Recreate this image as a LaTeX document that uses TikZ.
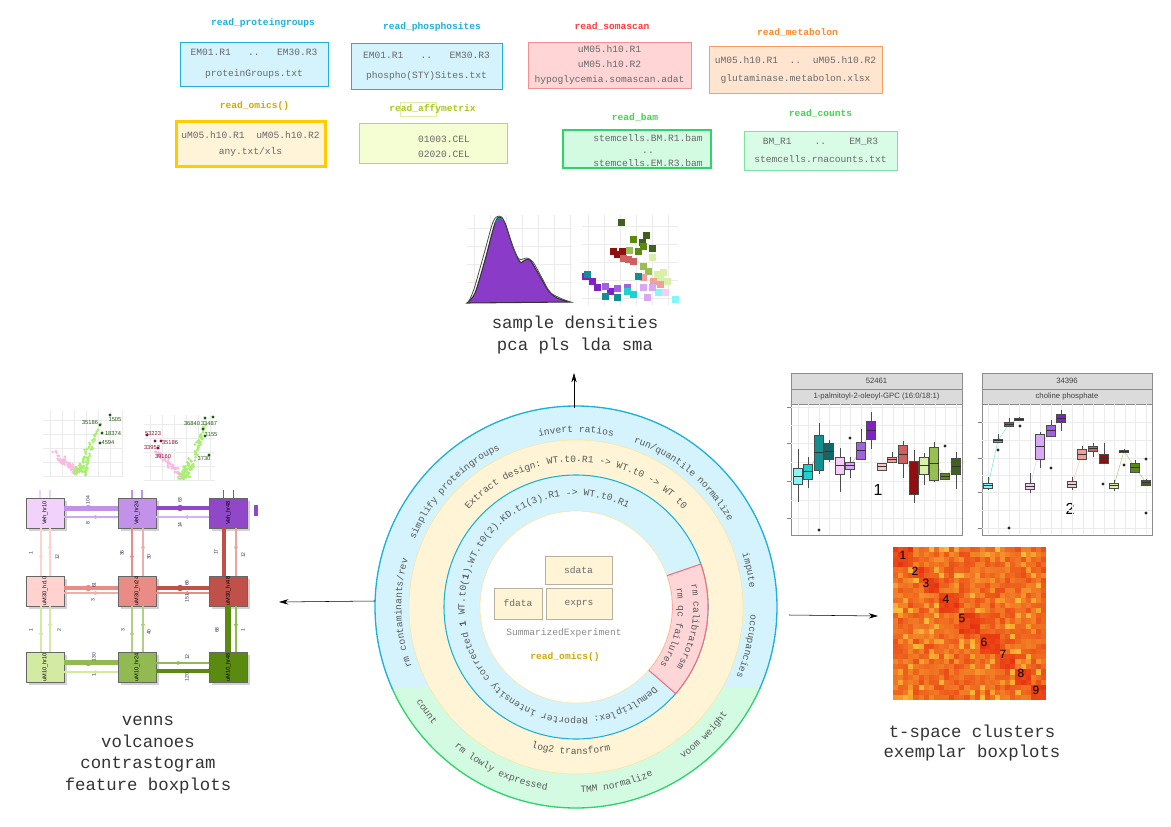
\documentclass[tikz,border=0pt]{standalone}
\usepackage{fontspec}
\usepackage{graphicx}
\setmainfont{Liberation Mono}
\newfontfamily\plotfont{Liberation Sans}
\usetikzlibrary{arrows.meta,calc,decorations.text,decorations.markings,shadows,positioning}

\definecolor{cyanline}{HTML}{1FB0DA}
\definecolor{cyanfill}{HTML}{D4F3FC}
\definecolor{yelfill}{HTML}{FFF5D6}
\definecolor{yelline}{HTML}{FFE39A}
\definecolor{grnfill}{HTML}{D3FBE2}
\definecolor{grnline}{HTML}{2ED36A}
\definecolor{redfill}{HTML}{FFD6D8}
\definecolor{redline}{HTML}{F0707A}
\definecolor{ringgray}{HTML}{585858}
\definecolor{boxgray}{HTML}{686868}
\definecolor{capgray}{HTML}{333333}
\definecolor{segray}{HTML}{8A8A8A}
\definecolor{sedge}{HTML}{B8B09A}
\definecolor{somared}{HTML}{FF3B3B}
\definecolor{somaline}{HTML}{F29090}
\definecolor{somafill}{HTML}{FFD5D5}
\definecolor{metaorange}{HTML}{FF8A2A}
\definecolor{metaline}{HTML}{F5A060}
\definecolor{metafill}{HTML}{FFE5CF}
\definecolor{omicsyel}{HTML}{D4A800}
\definecolor{omicsline}{HTML}{FFCC00}
\definecolor{omicsfill}{HTML}{FFF3D8}
\definecolor{affygreen}{HTML}{A8C81E}
\definecolor{affyline}{HTML}{BCD94A}
\definecolor{affyfill}{HTML}{F5FDD2}
\definecolor{bamgreen}{HTML}{3CD84A}
\definecolor{bamline}{HTML}{2ED36A}
\definecolor{bamfill}{HTML}{D2FBE2}
\definecolor{cntline}{HTML}{78E6A0}
\definecolor{cntfill}{HTML}{D8FCE6}
% plot colours
\definecolor{bp1}{HTML}{80F8F8}
\definecolor{bp2}{HTML}{20D0D0}
\definecolor{bp3}{HTML}{109090}
\definecolor{bp4}{HTML}{106868}
\definecolor{bp5}{HTML}{F4CCF8}
\definecolor{bp6}{HTML}{D8A8F4}
\definecolor{bp7}{HTML}{A060E0}
\definecolor{bp8}{HTML}{8020C8}
\definecolor{bp9}{HTML}{F8C8C8}
\definecolor{bp10}{HTML}{F0A098}
\definecolor{bp11}{HTML}{D06060}
\definecolor{bp12}{HTML}{901010}
\definecolor{bp13}{HTML}{D8F0A8}
\definecolor{bp14}{HTML}{98C050}
\definecolor{bp15}{HTML}{5A8A10}
\definecolor{bp16}{HTML}{406020}
\definecolor{denspurple}{HTML}{8A3CC8}
\definecolor{heathi}{HTML}{E83010}
\definecolor{heatlo}{HTML}{FFE040}
\definecolor{volgreen}{HTML}{A8EE70}
\definecolor{volpink}{HTML}{F8B8E0}
\definecolor{voldark}{HTML}{1E5A10}
\definecolor{volred}{HTML}{8A1030}
\definecolor{numnavy}{HTML}{2A2A50}
\definecolor{cgA1}{HTML}{F2D2FA}
\definecolor{cgA2}{HTML}{C292EA}
\definecolor{cgA3}{HTML}{9048C8}
\definecolor{cgB1}{HTML}{FFD2D0}
\definecolor{cgB2}{HTML}{EA8C86}
\definecolor{cgB3}{HTML}{C0504A}
\definecolor{cgC1}{HTML}{D2EAA2}
\definecolor{cgC2}{HTML}{92BA52}
\definecolor{cgC3}{HTML}{5A8A10}

\tikzset{
  readlabel/.style={font=\bfseries, inner sep=1pt},
  filebox/.style={rectangle, draw, inner sep=0pt, text=boxgray, align=center},
  boxtext/.style={inner sep=0pt, text=boxgray, align=center},
  sebox/.style={rectangle, draw=sedge, fill=yelfill, inner sep=0pt, text=boxgray},
  caption/.style={font=\fontsize{13}{16.3}\selectfont, align=center, text=capgray},
  ringtext/.style={decorate, decoration={text along path, text align=center}},
  gridline/.style={black!8, line width=0.4pt},
  cgbox/.style={draw=black!60, line width=0.5pt, minimum width=28.5pt, minimum height=22.5pt, inner sep=0pt,
    font=\plotfont\fontsize{4.2}{5}\selectfont, drop shadow={shadow xshift=2pt, shadow yshift=-2pt, fill=black!35}},
  cgnum/.style={font=\plotfont\fontsize{3.8}{4}\selectfont, text=numnavy, rotate=90, inner sep=0pt},
  midarrow/.style={postaction={decorate, decoration={markings, mark=at position 0.5 with {\arrow{Latex[length=4pt,width=3.5pt]}}}}},
  middot/.style={postaction={decorate, decoration={markings, mark=at position 0.45 with {\fill (0,0) circle[radius=2.4pt];}}}},
  boxedge/.style={draw=black!70, line width=0.4pt},
  striptext/.style={font=\plotfont\fontsize{5.8}{7}\selectfont, text=black!75, inner sep=0pt},
  heatnum/.style={font=\plotfont\fontsize{9}{9}\selectfont, inner sep=0pt},
  volnum/.style={font=\plotfont\fontsize{4.3}{5}\selectfont, inner sep=0pt},
}

\begin{document}
\begin{tikzpicture}[x=0.75pt, y=-0.75pt, >={Stealth[length=7pt,width=4pt]}]
\fontsize{7.2}{8.6}\selectfont
\useasboundingbox (0,0) rectangle (1171,827);

% readers
\node[readlabel, text=cyanline] (pglab) at (263,23) {read\_proteingroups};
\node[filebox, draw=cyanline, fill=cyanfill, minimum width=111pt, minimum height=33pt, font=\fontsize{7.2}{15.5}\selectfont] (pg) at (254,64) {EM01.R1~~~..~~~EM30.R3\\proteinGroups.txt};
\node[readlabel, text=cyanline] (phlab) at (432,27) {read\_phosphosites};
\node[filebox, draw=cyanline, fill=cyanfill, minimum width=113.25pt, minimum height=34.5pt, font=\fontsize{7.2}{15}\selectfont] (ph) at (426.5,66) {EM01.R1~~~..~~~EM30.R3\\phospho(STY)Sites.txt};
\node[readlabel, text=somared] (solab) at (612,27) {read\_somascan};
\node[filebox, draw=somaline, fill=somafill, minimum width=122.25pt, minimum height=34.5pt, font=\fontsize{7.2}{10.9}\selectfont] (so) at (609.5,65) {uM05.h10.R1\\uM05.h10.R2\\hypoglycemia.somascan.adat};
\node[readlabel, text=metaorange] (melab) at (797.5,33) {read\_metabolon};
\node[filebox, draw=metaline, fill=metafill, minimum width=129.75pt, minimum height=35.25pt, font=\fontsize{7.2}{13.5}\selectfont] (me) at (795.5,70) {uM05.h10.R1~~..~~uM05.h10.R2\\glutaminase.metabolon.xlsx};
\node[readlabel, text=omicsyel] (omlab) at (254.5,106) {read\_omics()};
\node[filebox, draw=omicsline, line width=2.25pt, fill=omicsfill, minimum width=111.75pt, minimum height=33.75pt, font=\fontsize{7.2}{12}\selectfont] (om) at (250.5,144.5) {uM05.h10.R1~~uM05.h10.R2\\any.txt/xls};
\draw[affyline!50, line width=0.4pt] (400,102) rectangle (436,116);
\node[readlabel, text=affygreen] (aflab) at (432.5,109) {read\_affymetrix};
\node[filebox, draw=affyline, fill=affyfill, minimum width=111pt, minimum height=30pt] (af) at (433,143) {};
\node[boxtext, font=\fontsize{7.2}{11.25}\selectfont] (aftxt) at (444,146.5) {01003.CEL\\02020.CEL};
\node[readlabel, text=bamgreen] (bamlab) at (635,118) {read\_bam};
\node[filebox, draw=bamline, line width=1.5pt, fill=bamfill, minimum width=111pt, minimum height=28.5pt] (bam) at (637,149) {};
\node[boxtext, font=\fontsize{7.2}{9.4}\selectfont] (bamtxt) at (648,150.5) {stemcells.BM.R1.bam\\..\\stemcells.EM.R3.bam};
\node[readlabel, text=bamgreen] (cnlab) at (820.5,114) {read\_counts};
\node[filebox, draw=cntline, fill=cntfill, minimum width=114.75pt, minimum height=29.25pt, font=\fontsize{7.2}{13}\selectfont] (cn) at (820.5,150.5) {BM\_R1~~~~..~~~~EM\_R3\\stemcells.rnacounts.txt};

% rings
\coordinate (c) at (576,607);
\fill[cyanfill] (c) circle[radius=150.75pt];
\begin{scope}
  \clip (0,688) rectangle (1171,827);
  \fill[grnfill] (c) circle[radius=150.75pt];
  \draw[grnline, line width=1pt] (c) circle[radius=150.75pt];
\end{scope}
\begin{scope}
  \clip (0,0) rectangle (1171,688);
  \draw[cyanline, line width=1pt] (c) circle[radius=150.75pt];
\end{scope}
\filldraw[fill=yelfill, draw=yelline] (c) circle[radius=125.25pt];
\filldraw[fill=cyanfill, draw=cyanline, line width=0.8pt] (c) circle[radius=99pt];
\filldraw[fill=redfill, draw=redline, line width=0.8pt] ($(c)+(19:72pt)$) arc[start angle=19, end angle=-41, radius=72pt] -- ($(c)+(-41:99pt)$) arc[start angle=-41, end angle=19, radius=99pt] -- cycle;
\filldraw[fill=white, draw=yelline] (c) circle[radius=72pt];

% ring texts
\path[ringtext, decoration={text={|\color{ringgray}|invert ratios}}] ($(c)+(120:131pt)$) arc[start angle=120, end angle=60, radius=131pt];
\path[ringtext, decoration={text={|\color{ringgray}|run/quantile normalize}}] ($(c)+(88:131pt)$) arc[start angle=88, end angle=12, radius=131pt];
\path[ringtext, decoration={text={|\color{ringgray}|impute}}] ($(c)+(32:131pt)$) arc[start angle=32, end angle=-8, radius=131pt];
\path[ringtext, decoration={text={|\color{ringgray}|occupancies}}] ($(c)+(17:131pt)$) arc[start angle=17, end angle=-43, radius=131pt];
\path[ringtext, decoration={text={|\color{ringgray}|simplify proteingroups}}] ($(c)+(174:131pt)$) arc[start angle=174, end angle=99, radius=131pt];
\path[ringtext, decoration={text={|\color{ringgray}|rm contaminants/rev}}] ($(c)+(215:131pt)$) arc[start angle=215, end angle=149, radius=131pt];
\path[ringtext, decoration={text={|\color{ringgray}|count}}] ($(c)+(-165:139pt)$) arc[start angle=-165, end angle=-125, radius=139pt];
\path[ringtext, decoration={text={|\color{ringgray}|rm lowly expressed}}] ($(c)+(-150:139pt)$) arc[start angle=-150, end angle=-80, radius=139pt];
\path[ringtext, decoration={text={|\color{ringgray}|TMM normalize}}] ($(c)+(-105:139pt)$) arc[start angle=-105, end angle=-49, radius=139pt];
\path[ringtext, decoration={text={|\color{ringgray}|voom weight}}] ($(c)+(-72:139pt)$) arc[start angle=-72, end angle=-18, radius=139pt];
\path[ringtext, decoration={text={|\color{ringgray}|Extract design: WT.t0.R1 -> WT.t0 -> WT t0}}] ($(c)+(155:108.75pt)$) arc[start angle=155, end angle=25, radius=108.75pt];
\path[ringtext, decoration={text={|\color{ringgray}|log2 transform}}] ($(c)+(-125:110.5pt)$) arc[start angle=-125, end angle=-59, radius=110.5pt];
\path[ringtext, decoration={text={|\color{ringgray}|Demultiplex: Reporter intensity corrected |\color{ringgray}\bfseries|1|\color{ringgray}| WT.t0(|\color{ringgray}\bfseries|1|\color{ringgray}|).WT.t0(2).KD.t1(3).R1 -> WT.t0.R1}}] ($(c)+(-36.5:83.5pt)$) arc[start angle=-36.5, end angle=-306.5, radius=83.5pt];
\path[ringtext, decoration={text={|\color{ringgray}|rm calibratorsm}}] ($(c)+(25:88pt)$) arc[start angle=25, end angle=-45, radius=88pt];
\path[ringtext, decoration={text={|\color{ringgray}|rm qc failures}}] ($(c)+(25:76.5pt)$) arc[start angle=25, end angle=-49, radius=76.5pt];

% summarized experiment
\node[sebox, minimum width=50.25pt, minimum height=21pt] (sdata) at (578.5,570) {sdata};
\node[sebox, minimum width=36pt, minimum height=23.25pt] (fdata) at (518,603.5) {fdata};
\node[sebox, minimum width=49.5pt, minimum height=23.25pt] (exprs) at (579,603.5) {exprs};
\node[text=segray] (se) at (564,633) {SummarizedExperiment};
\node[font=\bfseries, text=omicsyel] (seread) at (565,657) {read\_omics()};

% arrows out of the ring
\coordinate (ringtop) at (574,408);
\coordinate (uptip) at (574,373);
\coordinate (ringleft) at (375,601);
\coordinate (lefttip) at (279,602);
\coordinate (ringright) at (789,615);
\coordinate (righttip) at (878,616);
\draw[->] (ringtop) -- (uptip);
\draw[->] (ringleft) -- (lefttip);
\draw[->] (ringright) -- (righttip);

% captions
\node[caption] (pcacap) at (575,335) {sample densities\\pca pls lda sma};
\node[caption] (leftcap) at (148,755) {venns\\volcanoes\\contrastogram\\feature boxplots};
\node[caption, font=\fontsize{13}{15}\selectfont] (rightcap) at (972,743) {t-space clusters\\exemplar boxplots};

% densities
\foreach \gx in {474,490,...,570} \draw[gridline] (\gx,215) -- (\gx,303);
\foreach \gy in {228,246,...,300} \draw[gridline] (467,\gy) -- (572,\gy);
\filldraw[fill=denspurple, draw=black!80, line width=0.8pt] plot[smooth] coordinates {(467,303) (475,293) (485,260) (495,223) (500,217) (505,223) (513,247) (520,262) (525,260) (530,260) (538,273) (548,290) (557,298) (570,302)} -- cycle;
\draw[black!70, line width=0.6pt] plot[smooth] coordinates {(468,303) (474,289) (484,254) (493,222) (499,216) (504,221) (512,245) (519,259) (527,258) (533,262) (541,276) (551,293) (570,302)};
\draw[bp3, line width=0.6pt] plot[smooth] coordinates {(494,224) (499,218) (503,220)};

% pca
\foreach \gx in {588,604,...,676} \draw[gridline] (\gx,215) -- (\gx,305);
\foreach \gy in {226,244,...,304} \draw[gridline] (582,\gy) -- (678,\gy);
\foreach \sx/\sy/\sc in {621/223/bp16, 646/236/bp16, 642/243/bp16, 652/249/bp16, 638/252/bp15, 633/240/bp15, 629/251/bp14, 643/247/bp15,
  613/252/bp12, 622/252/bp12, 617/255/bp12, 628/260/bp11, 633/262/bp11, 623/259/bp11,
  643/267/bp14, 648/272/bp14, 657/275/bp13, 660/280/bp13, 652/258/bp13, 663/273/bp13, 667/282/bp13,
  643/278/bp10, 653/282/bp10, 660/285/bp10, 585/277/bp8, 592/282/bp8, 597/288/bp8, 610/292/bp8,
  587/275/bp3, 605/297/bp3, 617/298/bp3, 638/277/bp3, 605/287/bp7, 617/289/bp7, 627/288/bp7,
  633/295/bp2, 627/292/bp2, 675/300/bp1, 658/293/bp1, 643/288/bp6, 647/298/bp6, 652/288/bp6, 665/293/bp5}
  \fill[\sc] (\sx-3.5,\sy-3.5) rectangle ++(7,7);

% volcanoes
\pgfmathsetseed{5}
\foreach \gx in {50,62,...,122} \draw[gridline] (\gx,410) -- (\gx,477);
\foreach \gy in {420,434,...,476} \draw[gridline] (43,\gy) -- (122,\gy);
\foreach \gx in {150,162,...,214} \draw[gridline] (\gx,415) -- (\gx,481);
\foreach \gy in {424,438,...,480} \draw[gridline] (144,\gy) -- (215,\gy);
\foreach \k in {1,...,45} {
  \pgfmathsetmacro\vt{rnd}
  \fill[volpink] ({78-24*\vt+6*(rnd-0.5)},{476-20*\vt-6*rnd}) circle[radius=1.1pt];
  \pgfmathsetmacro\vt{rnd}
  \fill[volpink] ({182-26*\vt+6*(rnd-0.5)},{480-26*\vt-6*rnd}) circle[radius=1.1pt];
}
\foreach \k in {1,...,90} {
  \pgfmathsetmacro\vt{rnd*rnd}
  \fill[volgreen] ({80+22*\vt+12*(rnd-0.5)*(1-\vt)},{476-55*\vt-6*rnd}) circle[radius=1.1pt];
  \pgfmathsetmacro\vt{rnd*rnd}
  \fill[volgreen] ({184+24*\vt+12*(rnd-0.5)*(1-\vt)},{480-58*\vt-6*rnd}) circle[radius=1.1pt];
}
\foreach \dx/\dy in {110/415, 100/425, 102/433, 100/443, 205/418, 213/417, 203/429, 205/436, 209/455}
  \fill[voldark] (\dx,\dy) circle[radius=1.2pt];
\foreach \dx/\dy in {147/435, 155/441, 161/441, 158/448}
  \fill[volred] (\dx,\dy) circle[radius=1.2pt];
\foreach \n/\lx/\ly/\lt in {a/90/423/35186, b/115/420/1505, c/113/434/18374, d/108/443/4594, e/192/424/36840, f/209/424/33487, g/211/435/3155, h/204/459/3730}
  \node[volnum, text=voldark] (vol\n) at (\lx,\ly) {\lt};
\foreach \n/\lx/\ly/\lt in {i/153/434/53223, j/170/443/35186, k/152/448/33952, l/163/457/39160}
  \node[volnum, text=volred] (vol\n) at (\lx,\ly) {\lt};

% contrastogram
\foreach \nm/\cx/\cy/\cc/\lab in {a1/45/513/cgA1/Veh\_hr10, a2/137/513/cgA2/Veh\_hr24, a3/228.5/513/cgA3/Veh\_hr48,
  b1/45/591/cgB1/uM30\_hr10, b2/137/591/cgB2/uM30\_hr24, b3/228.5/591/cgB3/uM30\_hr48,
  c1/45/667.5/cgC1/uM10\_hr10, c2/137/667.5/cgC2/uM10\_hr24, c3/228.5/667.5/cgC3/uM10\_hr48}
  \node[cgbox, fill=\cc] (\nm) at (\cx,\cy) {\rotatebox{90}{\lab}};
\fill[cgA3] (254,505) rectangle (258,516);
\foreach \nm/\sc in {a1/cgA1, a2/cgA2, a3/cgA3} {
  \draw[\sc, line width=0.8pt] ([xshift=-3.75pt]\nm.north) -- ++(0,-8);
  \draw[\sc, line width=0.8pt] ([xshift=3.75pt]\nm.north) -- ++(0,-8);
}
% horizontal
\draw[cgA2, line width=3.75pt, middot] ([yshift=3.75pt]a1.east) -- ([yshift=3.75pt]a2.west);
\draw[cgA2!80, line width=1pt, midarrow] ([yshift=-3pt]a2.west) -- ([yshift=-3pt]a1.east);
\draw[cgA3, line width=3pt, middot] ([yshift=3.75pt]a2.east) -- ([yshift=3.75pt]a3.west);
\draw[cgA2!70, line width=1pt, midarrow] ([yshift=-3pt]a3.west) -- ([yshift=-3pt]a2.east);
\draw[cgB2, line width=2.5pt, middot] ([yshift=2.25pt]b1.east) -- ([yshift=2.25pt]b2.west);
\draw[cgB2!70, line width=1pt, midarrow] ([yshift=-1.5pt]b2.west) -- ([yshift=-1.5pt]b1.east);
\draw[cgB3, line width=2.5pt, middot] ([yshift=2.25pt]b2.east) -- ([yshift=2.25pt]b3.west);
\draw[cgB2, line width=1pt, midarrow] ([yshift=-1.5pt]b3.west) -- ([yshift=-1.5pt]b2.east);
\draw[cgC2, line width=3.75pt, middot] ([yshift=3.4pt]c1.east) -- ([yshift=3.4pt]c2.west);
\draw[cgC1, line width=1pt, midarrow] ([yshift=-3.4pt]c2.west) -- ([yshift=-3.4pt]c1.east);
\draw[cgC2, line width=1pt, midarrow] ([yshift=3.4pt]c2.east) -- ([yshift=3.4pt]c3.west);
\draw[cgC3, line width=2.5pt, midarrow] ([yshift=-2.6pt]c3.west) -- ([yshift=-2.6pt]c2.east);
% vertical
\draw[cgB1, line width=1pt, midarrow] ([xshift=-3pt]b1.north) -- ([xshift=-3pt]a1.south);
\draw[cgB1, line width=1pt, midarrow] ([xshift=3.75pt]a1.south) -- ([xshift=3.75pt]b1.north);
\draw[cgB2, line width=2pt, midarrow] ([xshift=-3.75pt]b2.north) -- ([xshift=-3.75pt]a2.south);
\draw[cgB2!70, line width=1pt, midarrow] ([xshift=4.5pt]a2.south) -- ([xshift=4.5pt]b2.north);
\draw[cgB3, line width=3.5pt, midarrow] ([xshift=-3.4pt]b3.north) -- ([xshift=-3.4pt]a3.south);
\draw[cgB2!80, line width=1pt, midarrow] ([xshift=5.6pt]a3.south) -- ([xshift=5.6pt]b3.north);
\draw[cgC1, line width=1pt, midarrow] ([xshift=-3pt]c1.north) -- ([xshift=-3pt]b1.south);
\draw[cgC1, line width=1pt, midarrow] ([xshift=3.75pt]b1.south) -- ([xshift=3.75pt]c1.north);
\draw[cgC2!70, line width=1.2pt, midarrow] ([xshift=-3.75pt]c2.north) -- ([xshift=-3.75pt]b2.south);
\draw[cgC2!70, line width=1.2pt, midarrow] ([xshift=4.5pt]b2.south) -- ([xshift=4.5pt]c2.north);
\draw[cgC3, line width=4.5pt, midarrow] ([xshift=-0.4pt]c3.north) -- ([xshift=-0.4pt]b3.south);
\draw[cgC2, line width=1pt, midarrow] ([xshift=5.6pt]b3.south) -- ([xshift=5.6pt]c3.north);
\foreach \n/\lx/\ly/\lt in {n1/88/500/104, n2/88/523/8, n3/180/500/63, n4/180/525/14,
  n5/31/553/1, n6/57/557/12, n7/122/553/36, n8/149/557/30, n9/216/552/17, n10/243/555/12,
  n11/94/585/61, n12/93/600/3, n13/187/583/69, n14/187/598/151,
  n15/31/630/1, n16/59/630/2, n17/123/630/3, n18/149/632/40, n19/217/630/68, n20/243/630/1,
  n21/94/657/130, n22/94/675/1, n23/187/657/12, n24/187/677/120}
  \node[cgnum] (cg\n) at (\lx,\ly) {\lt};

% exemplar boxplots
\foreach \px/\qx/\id/\nm/\pn/\py in {791/962/52461/{1-palmitoyl-2-oleoyl-GPC (16:0/18:1)}/1/490, 982/1152/34396/{choline phosphate}/2/509} {
  \fill[black!14] (\px,373) rectangle (\qx,404);
  \draw[black!45, line width=0.6pt] (\px,373) rectangle (\qx,535);
  \draw[black!45, line width=0.6pt] (\px,389) -- (\qx,389);
  \draw[black!45, line width=0.6pt] (\px,404) -- (\qx,404);
  \node[striptext] (bpid\pn) at ({(\px+\qx)/2},381) {\id};
  \node[striptext] (bpname\pn) at ({(\px+\qx)/2},396.5) {\nm};
  \node[font=\plotfont\fontsize{12}{12}\selectfont, inner sep=0pt] (bpnum\pn) at ({\px+87+(\pn-1)*1},\py) {\pn};
}
\foreach \k in {0,...,15} {
  \draw[gridline] ({798+10.53*\k},404) -- ({798+10.53*\k},535);
  \draw[gridline] ({988+10.53*\k},404) -- ({988+10.53*\k},534);
}
\foreach \gy in {407,425,443,462,481,500,518} \draw[gridline] (791,\gy) -- (962,\gy);
\foreach \gy in {422,440,458,475,492,510,528} \draw[gridline] (982,\gy) -- (1152,\gy);
\foreach \gy in {407,443,481,518} \draw[black!50] (791,\gy) -- (787,\gy);
\foreach \gy in {422,458,492,528} \draw[black!50] (982,\gy) -- (978,\gy);
\draw[bp2!60] (798,476) -- (808,471.5) -- (819,452.5) -- (829,451);
\draw[bp7!60] (840,465.5) -- (850,465.5) -- (861,450.5) -- (871,430);
\draw[bp11!50] (882,466.5) -- (892,459.5) -- (903,454) -- (914,477.5);
\draw[bp14!60] (924,465.5) -- (934,463.5) -- (945,476) -- (956,466);
\draw[bp2!60] (988,485.5) -- (998,440.5) -- (1009,424) -- (1019,419);
\draw[bp6!60] (1030,486) -- (1040,446.5) -- (1051,430.5) -- (1061,418);
\draw[bp10!60] (1072,484) -- (1082,454) -- (1093,448.5) -- (1104,458.5);
\draw[bp14!80] (1114,485.5) -- (1124,451) -- (1135,467.5) -- (1146,482.5);
\foreach \bx/\wt/\bt/\bb/\wb/\bc in {798/449/468/484/502/bp1, 808/457/464/479/488/bp2, 819/423/435/470/474/bp3, 829/440/443/459/462/bp4,
  840/448/457/474/492/bp5, 850/457/462/469/478/bp6, 861/429/442/459/459/bp7, 871/412/421/439/449/bp8,
  882/463/463/470/471/bp9, 892/452/457/462/462/bp10, 903/441/445/463/478/bp11, 914/450/461/494/503/bp12,
  924/453/457/474/485/bp13, 934/442/447/480/482/bp14, 945/473/473/479/479/bp15, 956/452/458/474/489/bp16,
  988/477/483/488/490/bp1, 998/434/439/442/443/bp2, 1009/418/422/426/426/bp3, 1019/417/418/420/420/bp4,
  1030/473/483/489/493/bp5, 1040/432/434/459/468/bp6, 1051/420/425/436/437/bp7, 1061/410/414/422/431/bp8,
  1072/477/481/487/490/bp9, 1082/446/449/459/459/bp10, 1093/443/446/451/457/bp11, 1104/443/454/463/463/bp12,
  1114/480/483/488/491/bp13, 1124/449/450/452/452/bp14, 1135/460/463/472/473/bp15, 1146/479/480/485/486/bp16} {
  \draw[boxedge] (\bx,\wt) -- (\bx,\wb);
  \filldraw[fill=\bc, boxedge] (\bx-4.5,\bt) rectangle (\bx+4.5,\bb);
  \draw[black!80, line width=0.7pt] (\bx-4.5,{(\bt+\bb)/2}) -- (\bx+4.5,{(\bt+\bb)/2});
}
\foreach \ox/\oy in {819/530, 850/438, 945/446, 1009/528, 1020/426, 998/450, 1051/468, 1103/484, 1124/465, 1146/459, 1146/513}
  \fill[black!85] (\ox,\oy) circle[radius=1.3pt];

% t-space heatmap
\pgfmathsetseed{11}
\foreach \i in {0,...,29} {
  \foreach \j in {0,...,29} {
    \pgfmathtruncatemacro\ci{(\i>3)+(\i>5)+(\i>8)+(\i>12)+(\i>16)+(\i>20)+(\i>23)+(\i>26)}
    \pgfmathtruncatemacro\cj{(\j>3)+(\j>5)+(\j>8)+(\j>12)+(\j>16)+(\j>20)+(\j>23)+(\j>26)}
    \pgfmathtruncatemacro\hv{\ci==\cj ? 82+18*rnd : (rnd<0.18 ? 20+30*rnd : 52+32*rnd)}
    \fill[heathi!\hv!heatlo] (893+5.1*\i,547+5.1*\j) rectangle ++(5.2,5.2);
  }
}
\foreach \n/\hx/\hy in {1/903/555, 2/915/571, 3/926/583, 4/946/599, 5/962/618, 6/984/642, 7/1003/654, 8/1021/673, 9/1036/690}
  \node[heatnum] (hn\n) at (\hx,\hy) {\n};

\end{tikzpicture}
\end{document}
